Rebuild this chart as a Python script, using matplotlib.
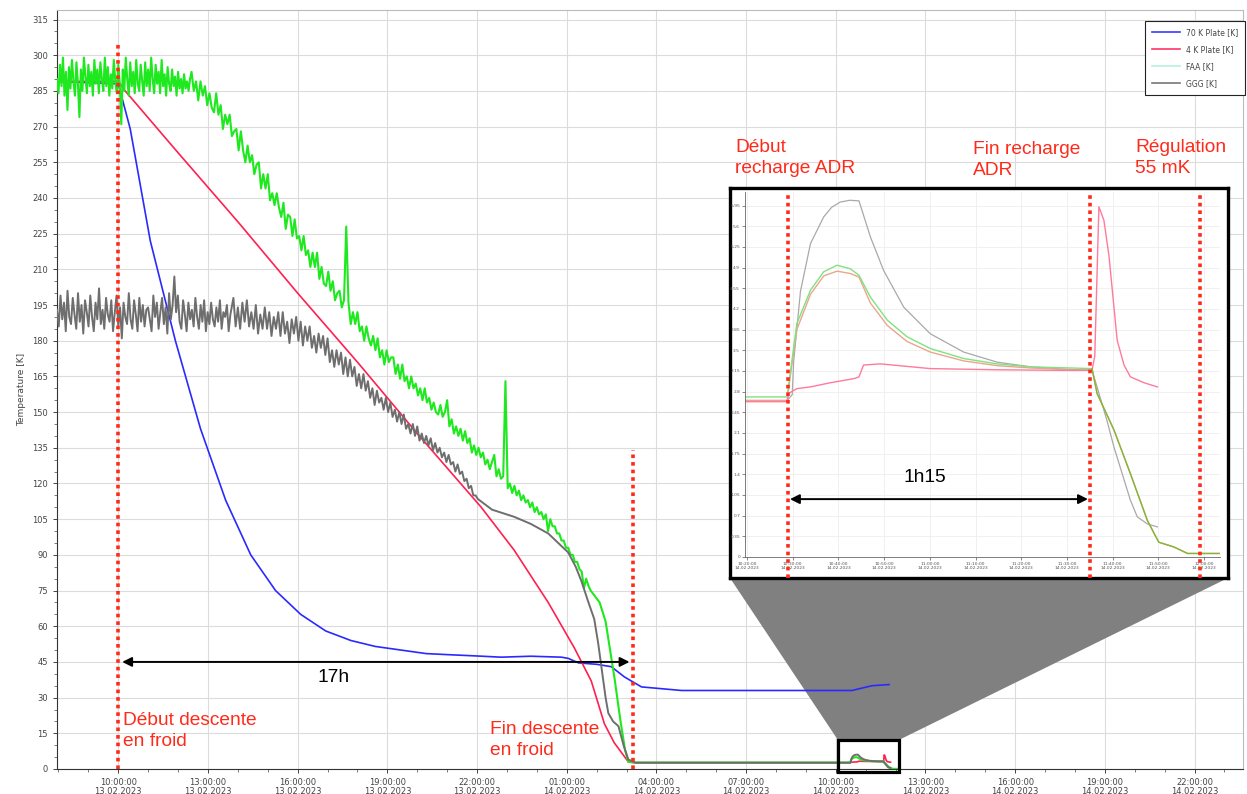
import numpy as np
import matplotlib
matplotlib.use("Agg")
import matplotlib.pyplot as plt
import matplotlib.dates as mdates
from matplotlib.lines import Line2D
from matplotlib.patches import Polygon, Rectangle
from datetime import datetime

W, H = 1247, 794
BASE = mdates.date2num(datetime(2023, 2, 13))


def t(hours):
    # heures depuis le 13.02.2023 00:00 -> date matplotlib
    return BASE + np.asarray(hours, dtype=float) / 24.0


# --- données (heures depuis 13.02 00:00, K) ---

# FAA : plateau bruité
faa_plateau = [290, 284, 296, 287, 299, 283, 293, 277, 295, 286,
               298, 289, 283, 297, 288, 274, 294, 285, 299, 291,
               284, 296, 287, 293, 283, 298, 288, 294, 284, 297,
               290, 285, 299, 287, 295, 283, 292, 286, 298, 289,
               284, 296, 288, 271, 294, 285, 299, 290, 283, 297,
               287, 293, 284, 298, 288, 285, 296, 289, 283, 297,
               287, 294, 285, 299, 290, 284, 296, 288, 293, 284,
               298, 287, 292, 283, 295, 288, 285, 294, 287, 291,
               283, 293, 286, 290, 284, 292, 286, 289, 285, 290]
faa_plateau_span = (7.95, 12.40)
# FAA : descente bruitée (pas de 0.075 h)
faa_desc = [293, 285, 289, 281, 289, 283, 287, 279, 284, 278,
            276, 284, 275, 279, 269, 275, 271, 275, 266, 268,
            269, 260, 268, 260, 255, 262, 255, 258, 250, 254,
            255, 244, 250, 244, 250, 239, 242, 237, 242, 236,
            232, 238, 227, 233, 232, 224, 231, 223, 224, 218,
            224, 216, 218, 211, 217, 211, 217, 206, 211, 204,
            203, 209, 201, 205, 197, 200, 201, 194, 197, 228,
            196, 187, 192, 187, 192, 184, 186, 180, 186, 181,
            178, 182, 176, 181, 173, 176, 170, 176, 171, 173,
            173, 166, 170, 164, 170, 163, 165, 160, 165, 160,
            162, 157, 160, 155, 160, 154, 156, 151, 154, 150,
            149, 153, 148, 150, 155, 144, 147, 141, 144, 140,
            143, 138, 142, 137, 139, 133, 136, 132, 135, 131,
            133, 128, 130, 126, 129, 132, 123, 126, 122, 123,
            163, 118, 120, 116, 119, 115, 117, 113, 115, 112,
            113, 110, 112, 108, 110, 107, 108, 105, 107, 100,
            105, 102, 102, 99, 99, 96, 96, 93, 93, 90,
            90, 87, 87, 84, 83, 76, 80, 77, 75]
faa_desc_span = (12.45, 25.80)
faa_end_h = [26.1, 26.3, 26.45, 26.6, 26.8, 26.95, 27.06, 27.3]
faa_end = [70, 62, 50, 38, 20, 8, 3, 2.71]

# GGG : plateau bruité
ggg_plateau = [193, 186, 199, 189, 196, 184, 201, 190, 187, 198,
               191, 185, 200, 188, 195, 183, 197, 192, 186, 199,
               190, 184, 196, 189, 202, 187, 193, 185, 198, 191,
               188, 197, 184, 192, 199, 186, 194, 181, 196, 190,
               187, 200, 189, 185, 197, 191, 184, 198, 188, 195,
               186, 193, 194, 189, 184, 199, 190, 196, 185, 192,
               198, 187, 194, 183, 200, 189, 195, 207, 192, 199,
               188, 185, 197, 191, 184, 196, 189, 193, 186, 198,
               190, 185, 195, 188, 197, 184, 192, 187, 196, 189,
               186, 194, 188, 197, 185, 192, 190, 195, 184, 191]
ggg_plateau_span = (7.95, 13.75)
# GGG : descente bruitée (pas de 0.075 h)
ggg_desc = [198, 186, 194, 185, 196, 188, 197, 186, 192, 185,
            195, 183, 191, 185, 194, 185, 192, 182, 190, 185,
            192, 182, 192, 183, 188, 179, 189, 183, 190, 180,
            188, 178, 186, 180, 186, 177, 182, 175, 183, 177,
            182, 174, 181, 171, 176, 169, 176, 170, 175, 166,
            173, 165, 172, 165, 169, 161, 166, 160, 166, 159,
            163, 156, 160, 153, 159, 154, 156, 151, 156, 150,
            154, 148, 151, 146, 150, 145, 149, 143, 145, 141,
            145, 140, 144, 138, 141, 137, 140, 136, 139, 134,
            137, 133, 135, 131, 133, 129, 132, 128, 129, 125,
            128, 124, 125, 121, 122, 118, 119, 115, 115, 113.5]
ggg_desc_span = (13.85, 22.025)
ggg_end_h = [22.5, 23.24, 23.8, 24.38, 24.8, 25.05, 25.3, 25.49, 25.7,
             25.92, 26.05, 26.16, 26.3, 26.39, 26.55, 26.73, 26.9, 27.06, 27.3]
ggg_end = [109, 106, 103, 99, 94, 91, 85, 79, 71,
           63, 53, 43, 30, 23.5, 20, 18, 10, 4, 2.65]

# 4 K Plate
plate4_h = [7.95, 10.0, 10.23, 12.0, 14.0, 16.0, 18.0, 20.0, 22.14, 23.24,
            24.38, 25.25, 25.82, 26.26, 26.59, 27.06, 27.3]
plate4 = [289, 289, 285, 259, 230, 200, 171, 141, 110, 92,
          70, 51, 37, 19, 11, 3, 2.63]

# 70 K Plate
plate70_h = [7.95, 10.0, 10.4, 11.07, 11.91, 12.75, 13.59, 14.43, 15.26, 16.1,
             16.94, 17.78, 18.6, 19.45, 20.3, 21.13, 22.0, 22.81, 23.8, 24.82,
             25.05, 25.39, 26.0, 26.49, 26.93, 27.5, 28.84, 31.0, 34.54, 35.21, 35.78]
plate70 = [289, 288, 269, 222, 180, 143, 113, 90, 75, 65,
           58, 54, 51.5, 50, 48.5, 48, 47.5, 47, 47.4, 47,
           46.5, 44.6, 44, 43, 38.7, 34.5, 33, 33, 33, 35, 35.5]

# recharge ADR (zoom) : minutes après 10:20 le 14.02
ggg_adr_min = [-0.4, 8.8, 9.9, 10.2, 11.7, 13.9, 16.8, 18.5, 20.4, 22.5, 24.5,
               27.0, 29.9, 34.3, 40.1, 47.4, 54.7, 62.0, 69.3, 75.5, 76.6,
               78.8, 80.3, 83.9, 85.4, 87.6, 89.8]
ggg_adr = [2.65, 2.65, 2.75, 3.3, 4.5, 5.31, 5.76, 5.92, 6.01, 6.04, 6.03,
           5.42, 4.85, 4.23, 3.78, 3.47, 3.30, 3.22, 3.18, 3.16, 2.88,
           2.3, 1.86, 0.96, 0.68, 0.56, 0.51]
faa_adr_min = [-0.4, 8.8, 9.1, 10.9, 13.9, 16.8, 19.7, 22.6, 24.5, 27.0,
               30.7, 35.0, 40.1, 47.4, 54.7, 62.0, 75.5, 76.6, 80.3, 83.9,
               87.6, 90.1, 93.4, 96.4, 103.6]
faa_adr = [2.71, 2.71, 2.9, 3.95, 4.52, 4.83, 4.94, 4.88, 4.77, 4.40,
           4.01, 3.73, 3.53, 3.36, 3.27, 3.22, 3.19, 2.77, 2.15, 1.41,
           0.62, 0.25, 0.17, 0.06, 0.06]
salmon_adr_min = [-0.4, 8.8, 9.1, 10.9, 13.9, 16.8, 19.7, 22.6, 24.5, 27.0,
                  30.7, 35.0, 40.1, 47.4, 54.7, 62.0, 75.5]
salmon_adr = [2.65, 2.65, 2.85, 3.85, 4.45, 4.76, 4.84, 4.80, 4.74, 4.30,
              3.92, 3.65, 3.47, 3.32, 3.24, 3.20, 3.16]
plate4_adr_min = [-0.4, 8.8, 9.1, 10.9, 13.9, 18.2, 23.4, 24.5, 25.5, 29.2,
                  40.1, 54.7, 69.3, 75.5, 76.1, 77.0, 78.1, 79.2, 81.0, 82.5,
                  83.9, 86.9, 89.8]
plate4_adr = [2.63, 2.63, 2.77, 2.85, 2.88, 2.95, 3.02, 3.05, 3.25, 3.27,
              3.19, 3.17, 3.16, 3.16, 3.4, 5.93, 5.7, 5.1, 3.67, 3.25,
              3.05, 2.95, 2.88]

ADR_START_H = 34 + 20 / 60.0
LIMITS_H = (7.95, 47.62)
ZOOM_BOX_H = (34.07, 36.11)
ZOOM_BOX_K = (-1.3, 12.2)


def adr_t(minutes):
    return t(ADR_START_H + np.asarray(minutes, dtype=float) / 60.0)


def series(plateau, span, desc, dspan, end_h, end, adr_min, adr):
    h = np.concatenate([np.linspace(*span, len(plateau)),
                        np.linspace(*dspan, len(desc)), end_h])
    x = np.concatenate([t(h), adr_t(adr_min)])
    k = np.concatenate([plateau, desc, end, adr])
    return x, k


faa_x, faa_k = series(faa_plateau, faa_plateau_span, faa_desc, faa_desc_span,
                      faa_end_h, faa_end, faa_adr_min, faa_adr)
ggg_x, ggg_k = series(ggg_plateau, ggg_plateau_span, ggg_desc, ggg_desc_span,
                      ggg_end_h, ggg_end, ggg_adr_min, ggg_adr)
p4_x = np.concatenate([t(plate4_h), adr_t(plate4_adr_min)])
p4_k = np.concatenate([plate4, plate4_adr])

RED = "#ff2a1a"
TXT = "Liberation Sans"
FS = 13.8

fig = plt.figure(figsize=(W / 100, H / 100), dpi=100)


def px(x, y):
    return x / W, 1 - y / H


# --- graphe principal ---
ax = fig.add_axes([57 / W, 1 - 769 / H, (1243 - 57) / W, (769 - 10) / H])
ax.plot(t(plate70_h), plate70, color="#2a2aff", lw=1.2, zorder=3)
ax.plot(p4_x, p4_k, color="#ff2050", lw=1.2, zorder=3)
ax.plot(faa_x, faa_k, color="#1ee81e", lw=1.5, zorder=3)
ax.plot(ggg_x, ggg_k, color="#6e6e6e", lw=1.4, zorder=3)

ax.set_xlim(t(LIMITS_H[0]), t(LIMITS_H[1]))
ax.set_ylim(0, 319)
ax.set_yticks(np.arange(0, 316, 15))
ax.yaxis.set_minor_locator(plt.MultipleLocator(5))
ax.xaxis.set_major_locator(mdates.HourLocator(byhour=[1, 4, 7, 10, 13, 16, 19, 22]))
ax.xaxis.set_minor_locator(mdates.HourLocator())
ax.xaxis.set_major_formatter(mdates.DateFormatter("%H:%M:%S\n%d.%m.%Y"))
ax.tick_params(labelsize=6, colors="#444444", length=3, width=0.7)
ax.tick_params(which="minor", length=2, width=0.6, colors="#666666")
for lab in ax.get_xticklabels():
    lab.set_linespacing(1.0)
ax.grid(True, color="#dcdcdc", lw=0.8)
ax.set_ylabel("Temperature [K]", fontsize=6.5, color="#444444", labelpad=4)
for s in ["left", "bottom"]:
    ax.spines[s].set_color("#333333")
for s in ["top", "right"]:
    ax.spines[s].set_color("#bbbbbb")

# légende
handles = [Line2D([], [], color="#3a3aff", lw=1.2),
           Line2D([], [], color="#ff3366", lw=1.2),
           Line2D([], [], color="#b8f0d8", lw=1.2),
           Line2D([], [], color="#777777", lw=1.2)]
leg = ax.legend(handles, ["70 K Plate [K]", "4 K Plate [K]", "FAA [K]", "GGG [K]"],
                loc="upper right", bbox_to_anchor=px(1245, 21), bbox_transform=fig.transFigure,
                borderaxespad=0, fontsize=5.5, handlelength=3.6, labelspacing=1.05,
                fancybox=False, framealpha=1, edgecolor="#222222", borderpad=0.9)
leg.get_frame().set_linewidth(0.8)
leg.set_zorder(6)
for tx in leg.get_texts():
    tx.set_color("#444444")

# lignes pointillées rouges et flèche 17h
ax.plot(t([10.0, 10.0]), [0, 306], color=RED, lw=2.6, ls=(0, (1, 1.1)), clip_on=False, zorder=4)
ax.plot(t([27.2, 27.2]), [0, 134], color=RED, lw=2.6, ls=(0, (1, 1.1)), clip_on=False, zorder=4)
ax.annotate("", xy=(t(27.1), 45), xytext=(t(10.13), 45), zorder=4,
            arrowprops=dict(arrowstyle="<|-|>", color="black", lw=1.4,
                            mutation_scale=14, shrinkA=0, shrinkB=0))
ax.add_patch(Rectangle((t(ZOOM_BOX_H[0]), ZOOM_BOX_K[0]),
                       t(ZOOM_BOX_H[1]) - t(ZOOM_BOX_H[0]), ZOOM_BOX_K[1] - ZOOM_BOX_K[0],
                       fill=False, ec="black", lw=2.3, clip_on=False, zorder=5))

fig.text(*px(334, 678), "17h", fontsize=FS, family=TXT, ha="center", va="center")
for (x0, y0), s in [((123, 731), "Début descente\nen froid"),
                    ((490, 740), "Fin descente\nen froid"),
                    ((735, 158), "Début\nrecharge ADR"),
                    ((973, 160), "Fin recharge\nADR"),
                    ((1135, 158), "Régulation\n55 mK")]:
    fig.text(*px(x0, y0), s, fontsize=FS, family=TXT, color=RED,
             ha="left", va="center", linespacing=1.35)

# --- encart zoom ---
frame = fig.add_axes([730 / W, 1 - 578 / H, 498 / W, 390 / H], zorder=5)
frame.set_xticks([])
frame.set_yticks([])
for s in frame.spines.values():
    s.set_linewidth(2.4)
    s.set_color("black")

ins = fig.add_axes([745 / W, 1 - 557 / H, 475 / W, 365 / H], zorder=6)
ins.plot(adr_t(ggg_adr_min), ggg_adr, color="#a9a9a9", lw=0.9)
ins.plot(adr_t(salmon_adr_min), salmon_adr, color="#eaa68c", lw=1.0)
ins.plot(adr_t(faa_adr_min), faa_adr, color="#7fe27f", lw=1.0)
ins.plot(adr_t(plate4_adr_min), plate4_adr, color="#ff7a9c", lw=1.0)
ins.plot(adr_t(faa_adr_min[16:]), faa_adr[16:], color="#9aaa3a", lw=1.0)
ins.set_xlim(adr_t(-0.44), adr_t(103.5))
ins.set_ylim(0, 6.18)
ins.set_yticks(np.round(np.arange(0, 6.0, 0.35), 2))
ins.yaxis.set_major_formatter(plt.FuncFormatter(lambda v, p: f"{v:g}"))
ins.xaxis.set_major_locator(mdates.MinuteLocator(byminute=range(0, 60, 10)))
ins.xaxis.set_major_formatter(mdates.DateFormatter("%H:%M:%S\n%d.%m.%Y"))
ins.tick_params(labelsize=3.2, colors="#555555", length=2, width=0.5, pad=1.5)
ins.grid(True, color="#eeeeee", lw=0.6)
for s in ["top", "right"]:
    ins.spines[s].set_visible(False)
for s in ["left", "bottom"]:
    ins.spines[s].set_color("#666666")
    ins.spines[s].set_linewidth(0.6)

for m in [9.0, 75.1, 99.1]:
    ins.plot(adr_t([m, m]), [-0.36, 6.18], color=RED, lw=2.6,
             ls=(0, (1, 1.1)), clip_on=False, zorder=7)
ins.annotate("", xy=(adr_t(74.6), 0.98), xytext=(adr_t(9.4), 0.98),
             arrowprops=dict(arrowstyle="<|-|>", color="black", lw=1.4,
                             mutation_scale=14, shrinkA=0, shrinkB=0))
ins.text(adr_t(39), 1.34, "1h15", fontsize=FS, family=TXT, ha="center", va="center")

# cône gris entre la boîte et l'encart (sous les courbes, au-dessus de la grille)
to_data = ax.transData.inverted()
f0 = to_data.transform(frame.transAxes.transform((0, 0)))
f1 = to_data.transform(frame.transAxes.transform((1, 0)))
cone = Polygon([(t(ZOOM_BOX_H[0]), ZOOM_BOX_K[1]), (t(ZOOM_BOX_H[1]), ZOOM_BOX_K[1]),
                tuple(f1), tuple(f0)], closed=True, fc="#808080", ec="none", zorder=2)
ax.add_patch(cone)

fig.savefig("out.png", dpi=100)
